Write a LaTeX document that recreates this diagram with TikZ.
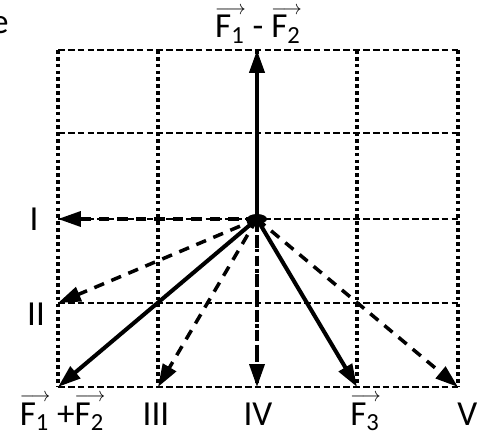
\documentclass[tikz,border=0pt]{standalone}
\usepackage{amsmath}
\usepackage{fontspec}
\setmainfont{Carlito}
\usetikzlibrary{arrows.meta,positioning}

% F with a thin vector arrow above it
\newcommand{\vF}[1]{\rlap{\raisebox{0.66em}{\scalebox{0.52}[0.55]{$\longrightarrow$}}}F$_{\text{#1}}$}

\begin{document}
\begin{tikzpicture}[x=0.02cm,y=-0.02cm,
  hgrid/.style={line width=1.7pt,dash pattern=on 3.8pt off 1.8pt},
  vgrid/.style={line width=1.9pt,dash pattern=on 2.1pt off 1.8pt},
  vecsolid/.style={line width=2.3pt,-{Triangle[length=13pt,width=8.5pt]}},
  vecdash/.style={line width=2pt,dash pattern=on 6pt off 4.5pt,-{Triangle[length=13pt,width=8.5pt]}},
  lbl/.style={font=\fontsize{20}{23}\selectfont,inner sep=0pt}]
  \useasboundingbox (0,0) rectangle (477,446);

  % grid
  \foreach \gy in {50,133,219,303,387}
    \draw[hgrid] (58,\gy) -- (458,\gy);
  \foreach \gx in {58,158,257,357,458}
    \draw[vgrid] (\gx,50) -- (\gx,387);

  % tail and tips
  \coordinate (O) at (257,219);
  \coordinate (up) at (257,50);
  \coordinate (tI) at (58,219);
  \coordinate (tII) at (58,303);
  \coordinate (tsum) at (58,387);
  \coordinate (tIII) at (158,387);
  \coordinate (tIV) at (257,387);
  \coordinate (tF3) at (357,387);
  \coordinate (tV) at (458,387);

  \draw[vecsolid] (O) -- (up);
  \draw[vecsolid] (O) -- (tsum);
  \draw[vecsolid] (O) -- (tF3);
  \draw[vecdash] (O) -- (tI);
  \draw[vecdash] (O) -- (tII);
  \draw[vecdash] (O) -- (tIII);
  \draw[vecdash] (O) -- (tIV);
  \draw[vecdash] (O) -- (tV);
  \fill (O) ellipse (10 and 5);

  % labels
  \node[lbl,anchor=base] (ldiff) at (258,38) {\vF{1} - \vF{2}};
  \node[lbl] (lI) at (34,219) {I};
  \node[lbl] (lII) at (36,314) {II};
  \node[lbl,anchor=base] (lsum) at (62,425) {\vF{1} +\vF{2}};
  \node[lbl,anchor=base] (lIII) at (156,425) {III};
  \node[lbl,anchor=base] (lIV) at (258,425) {IV};
  \node[lbl,anchor=base] (lF3) at (365,425) {\vF{3}};
  \node[lbl,anchor=base west] (lV) at (457,425) {V};
  \node[lbl,anchor=base east] (le) at (9,34) {e};
\end{tikzpicture}
\end{document}
